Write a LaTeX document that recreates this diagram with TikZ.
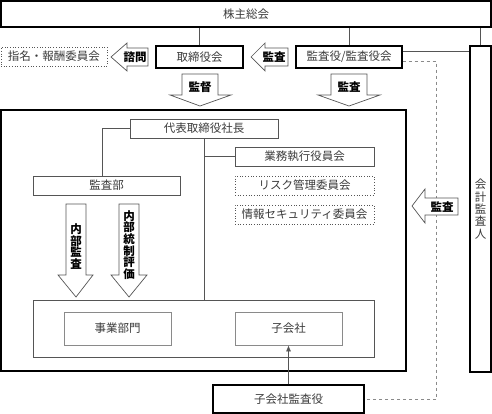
\documentclass[tikz,border=0pt]{standalone}
\usepackage{fontspec}
\setmainfont{Noto Sans CJK JP}
\usetikzlibrary{arrows.meta,calc}
\definecolor{txt}{HTML}{3A3A3A}
\definecolor{ln}{HTML}{555555}
\definecolor{lg}{HTML}{8A8A8A}
\tikzset{
  boxfont/.style={font=\fontsize{11.5}{12}\selectfont},
  mainbox/.style={draw=black,line width=1.2pt,inner sep=0pt,text=txt,boxfont},
  subbox/.style={draw=ln,line width=0.7pt,inner sep=0pt,text=txt,boxfont},
  dotbox/.style={draw=ln,line width=0.7pt,dotted,inner sep=0pt,text=txt,boxfont},
  lightbox/.style={draw=lg,line width=0.7pt,inner sep=0pt,text=txt,boxfont},
  conn/.style={draw=ln,line width=0.7pt},
  fatarrow/.style={draw=ln,line width=0.7pt,fill=white},
  alabel/.style={inner sep=0pt,font=\fontsize{11.5}{11.7}\selectfont\bfseries,text=black,align=center}
}
\begin{document}
\begin{tikzpicture}[x=1pt,y=-1pt]
\useasboundingbox (0,0) rectangle (492,414);
% main frames
\node[mainbox,minimum width=490pt,minimum height=26pt] (kabu) at (246,14) {株主総会};
\node[mainbox,minimum width=405pt,minimum height=261pt] (main) at (203.5,240.5) {};
\node[mainbox,minimum width=21pt,minimum height=326pt] (kaikei) at (480.5,209) {};
\node[inner sep=0pt,align=center,text=txt,font=\fontsize{11.5}{12.4}\selectfont] (kaikeit) at (kaikei.center) {会\\計\\監\\査\\人};
\node[dotbox,minimum width=106pt,minimum height=19pt] (shimei) at (54,56.5) {指名・報酬委員会};
\node[mainbox,minimum width=87pt,minimum height=22pt] (tori) at (199.5,57) {取締役会};
\node[mainbox,minimum width=106pt,minimum height=22pt] (kansa) at (349,57) {監査役/監査役会};
% inside
\node[subbox,minimum width=148pt,minimum height=19pt] (daihyo) at (204,128.5) {代表取締役社長};
\node[subbox,minimum width=139pt,minimum height=19pt] (gyomu) at (304.5,156.5) {業務執行役員会};
\node[dotbox,minimum width=139pt,minimum height=19pt] (risk) at (304.5,185.5) {リスク管理委員会};
\node[dotbox,minimum width=139pt,minimum height=19pt] (joho) at (304.5,214.5) {情報セキュリティ委員会};
\node[subbox,minimum width=147pt,minimum height=19pt] (kansabu) at (106.5,185.5) {監査部};
\node[subbox,minimum width=341pt,minimum height=57pt] (sub) at (203.5,328.5) {};
\node[lightbox,minimum width=107pt,minimum height=33pt] (jigyo) at (117.5,328.5) {事業部門};
\node[lightbox,minimum width=107pt,minimum height=33pt] (kogai) at (288.5,328.5) {子会社};
\node[mainbox,minimum width=151pt,minimum height=28pt] (kk) at (288.5,399) {子会社監査役};
% connectors
\draw[conn] (tori.north) -- (tori.north |- kabu.south);
\draw[conn] (kansa.north) -- (kansa.north |- kabu.south);
\draw[conn] (kaikei.north) -- (kaikei.north |- kabu.south);
\draw[conn] ([yshift=-6pt]kansa.north east) -- ([yshift=-6pt]kansa.north east -| kaikei.west);
\draw[draw=lg,line width=0.7pt,dashed] ([yshift=7pt]kansa.south east) -- ++(34,0) |- (kk.east);
\draw[conn] (daihyo.west) -| ([xshift=-4.5pt]kansabu.north);
\draw[conn] (daihyo.south) -- (daihyo.south |- sub.north);
\draw[conn] (gyomu.west) -- (gyomu.west -| daihyo.south);
\draw[conn,-{Latex[length=6pt,width=5pt]}] (kk.north) -- (kogai.south);
% fat arrows
\draw[fatarrow] (111,57) -- (127,43) -- (127,48) -- (148,48) -- (148,66) -- (127,66) -- (127,71) -- cycle;
\node[alabel] (a1) at (135,57) {諮問};
\draw[fatarrow] (251,57) -- (265,43) -- (265,48) -- (288,48) -- (288,66) -- (265,66) -- (265,71) -- cycle;
\node[alabel] (a2) at (274,57) {監査};
\draw[fatarrow] (182,74) -- (218,74) -- (218,95) -- (231,95) -- (200,106) -- (170,95) -- (182,95) -- cycle;
\node[alabel] (a3) at (200,87) {監督};
\draw[fatarrow] (331,74) -- (367,74) -- (367,95) -- (380,95) -- (349,106) -- (318,95) -- (331,95) -- cycle;
\node[alabel] (a4) at (349,87) {監査};
\draw[fatarrow] (412,206) -- (425,189) -- (425,198) -- (458,198) -- (458,215) -- (425,215) -- (425,223) -- cycle;
\node[alabel] (a5) at (442,207) {監査};
\draw[fatarrow] (66,204) -- (86,204) -- (86,275) -- (93,275) -- (76,297) -- (58,275) -- (66,275) -- cycle;
\node[alabel] (a6) at (76,246.5) {内\\部\\監\\査};
\draw[fatarrow] (119,204) -- (139,204) -- (139,275) -- (147,275) -- (129,297) -- (111,275) -- (119,275) -- cycle;
\node[alabel] (a7) at (129,245) {内\\部\\統\\制\\評\\価};
\end{tikzpicture}
\end{document}
